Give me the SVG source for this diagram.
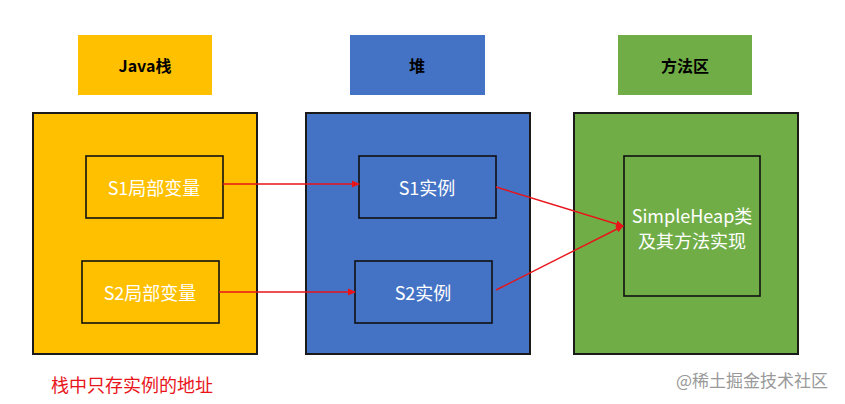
<svg xmlns="http://www.w3.org/2000/svg" width="845" height="404" viewBox="0 0 845 404">
<style>
text{font-family:"Noto Sans CJK SC","Noto Sans",sans-serif;text-anchor:middle;dominant-baseline:central}
.big{stroke:#1a1a1a;stroke-width:2}
.in{stroke:#111;stroke-width:1.6}
.t{fill:#fff;font-size:18px}
.h{fill:#000;font-size:16px;font-weight:bold}
.c{stroke:#e8141a;stroke-width:1.4;fill:none;marker-end:url(#a)}
</style>
<defs><marker id="a" markerWidth="8" markerHeight="8" refX="7" refY="4" orient="auto" markerUnits="userSpaceOnUse"><path d="M0,0.5 L8,4 L0,7.5z" fill="#e8141a"/></marker></defs>
<rect width="845" height="404" fill="#fff"/>
<g id="lbl-java"><rect x="78" y="35" width="134" height="60" fill="#ffc000"/><text class="h" x="145" y="65">Java栈</text></g>
<g id="lbl-heap"><rect x="350" y="35" width="135" height="60" fill="#4472c4"/><text class="h" x="417" y="65">堆</text></g>
<g id="lbl-method"><rect x="618" y="35" width="134" height="60" fill="#70ad47"/><text class="h" x="685" y="65">方法区</text></g>
<g id="java"><rect class="big" x="33" y="113" width="224" height="241" fill="#ffc000"/></g>
<g id="heap"><rect class="big" x="306" y="113" width="224" height="241" fill="#4472c4"/></g>
<g id="method"><rect class="big" x="574" y="113" width="224" height="241" fill="#70ad47"/></g>
<g id="s1var"><rect class="in" x="86" y="156" width="137" height="62" fill="#ffc000"/><text class="t" x="154" y="187">S1局部变量</text></g>
<g id="s2var"><rect class="in" x="82" y="261" width="137" height="62" fill="#ffc000"/><text class="t" x="150" y="292">S2局部变量</text></g>
<g id="s1"><rect class="in" x="359" y="156" width="137" height="62" fill="#4472c4"/><text class="t" x="427" y="187">S1实例</text></g>
<g id="s2"><rect class="in" x="355" y="261" width="137" height="62" fill="#4472c4"/><text class="t" x="423" y="292">S2实例</text></g>
<g id="cls"><rect class="in" x="624" y="156" width="136" height="140" fill="#70ad47"/><text class="t" x="692" y="215">SimpleHeap类</text><text class="t" x="692" y="240">及其方法实现</text></g>
<g id="connectors">
<line class="c" x1="223" y1="184" x2="359" y2="184"/>
<line class="c" x1="219" y1="292" x2="355" y2="292"/>
<line class="c" x1="496" y1="187" x2="623" y2="226"/>
<line class="c" x1="496" y1="290" x2="623" y2="226"/>
</g>
<text x="132" y="384" style="fill:#e8141a;font-size:18px">栈中只存实例的地址</text>
<text x="752" y="379" style="fill:#999;font-size:17px">@稀土掘金技术社区</text>
</svg>
